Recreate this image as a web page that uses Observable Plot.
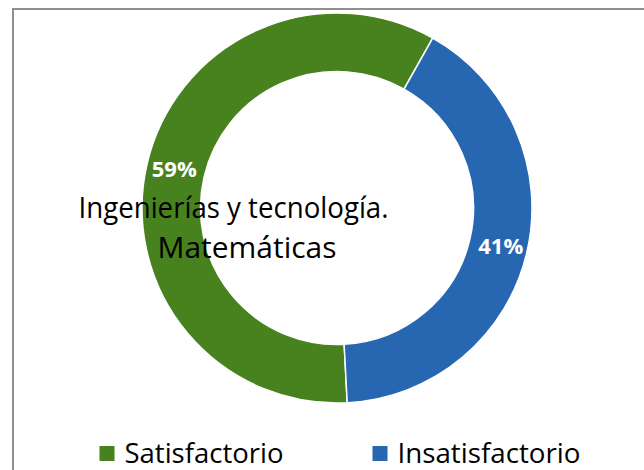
<!DOCTYPE html>
<html>
<head>
<meta charset="utf-8">
<script src="https://cdn.jsdelivr.net/npm/d3@7"></script>
<script src="https://cdn.jsdelivr.net/npm/@observablehq/plot@0.6"></script>
<style>
  html, body { margin: 0; padding: 0; background: #fff; overflow: hidden; }
  #wrap { position: relative; width: 644px; height: 470px; }
  #border { position: absolute; left: 12px; top: 8px; width: 700px; height: 520px;
            border-top: 2px solid #8f8f8f; border-left: 2px solid #8f8f8f; pointer-events: none; }
</style>
</head>
<body>
<div id="wrap"><div id="border"></div></div>
<script>
// ---- data ----
const categories = ["Satisfactorio", "Insatisfactorio"];
const values = [59, 41];
const colors = ["#47821F", "#2767B1"];
const titleLines = ["Ingenierías y tecnología.", "Matemáticas"];

// ---- layout (style) ----
const W = 644, H = 470;
const cx = 337, cy = 208, R = 195, innerRatio = 0.70;
const startDeg = 177;
const font = "'Open Sans', Lato, sans-serif";

const total = d3.sum(values);
const pie = d3.pie().sort(null)
  .startAngle(startDeg * Math.PI / 180)
  .endAngle(startDeg * Math.PI / 180 + 2 * Math.PI);
const arcs = pie(values).map((a, i) => ({...a, name: categories[i], color: colors[i],
  mid: (a.startAngle + a.endAngle) / 2, pct: d3.format(".0%")(values[i] / total)}));

const labelR = 0.86;

function donut(index, scales) {
  const {x, y} = scales;
  const ox = x(0), oy = y(0);
  const outer = x(1) - x(0);
  const arcGen = d3.arc().outerRadius(outer).innerRadius(outer * innerRatio);
  const g = d3.create("svg:g").attr("transform", `translate(${ox},${oy})`);
  g.selectAll("path").data(arcs).join("path")
    .attr("d", arcGen).attr("fill", d => d.color)
    .attr("stroke", "#fff").attr("stroke-width", 1.5);
  return g.node();
}

const legendPos = [{sq: 107, tx: 124, len: 159}, {sq: 380, tx: 397, len: 183}];
function legendSquares() {
  const g = d3.create("svg:g");
  g.selectAll("rect").data(categories).join("rect")
    .attr("x", (d, i) => legendPos[i].sq - 7.5).attr("y", 446)
    .attr("width", 15).attr("height", 15)
    .attr("fill", (d, i) => colors[i]);
  return g.node();
}

const chart = Plot.plot({
  width: W, height: H, margin: 0,
  x: {domain: [-1, 1], range: [cx - R, cx + R]},
  y: {domain: [-1, 1], range: [cy + R, cy - R]},
  axis: null,
  style: {fontFamily: font, background: "#fff"},
  marks: [
    donut,
    Plot.text(arcs, {
      x: d => labelR * Math.sin(d.mid), y: d => labelR * Math.cos(d.mid),
      text: "pct", fill: "#fff", fontSize: 22, fontWeight: "bold", textAnchor: "middle"
    }),
    Plot.text([titleLines[0]], {frameAnchor: "top-left", dx: 233, dy: 217, lineAnchor: "bottom",
      textAnchor: "middle", fontSize: 29, fill: "#000"}),
    Plot.text([titleLines[1]], {frameAnchor: "top-left", dx: 246.5, dy: 257, lineAnchor: "bottom",
      textAnchor: "middle", fontSize: 29, fill: "#000"}),
    legendSquares,
    ...categories.map((c, i) => Plot.text([c], {frameAnchor: "top-left", dx: legendPos[i].tx, dy: 462,
      lineAnchor: "bottom", textAnchor: "start", fontSize: 27, fill: "#000"}))
  ]
});

// fit text widths to the reference
const lengths = new Map([[titleLines[0], 310], [titleLines[1], 179],
  [categories[0], legendPos[0].len], [categories[1], legendPos[1].len]]);
chart.querySelectorAll("text").forEach(t => {
  const L = lengths.get(t.textContent);
  if (L) { t.setAttribute("textLength", L); t.setAttribute("lengthAdjust", "spacingAndGlyphs"); }
});

document.getElementById("wrap").prepend(chart);
</script>
</body>
</html>
